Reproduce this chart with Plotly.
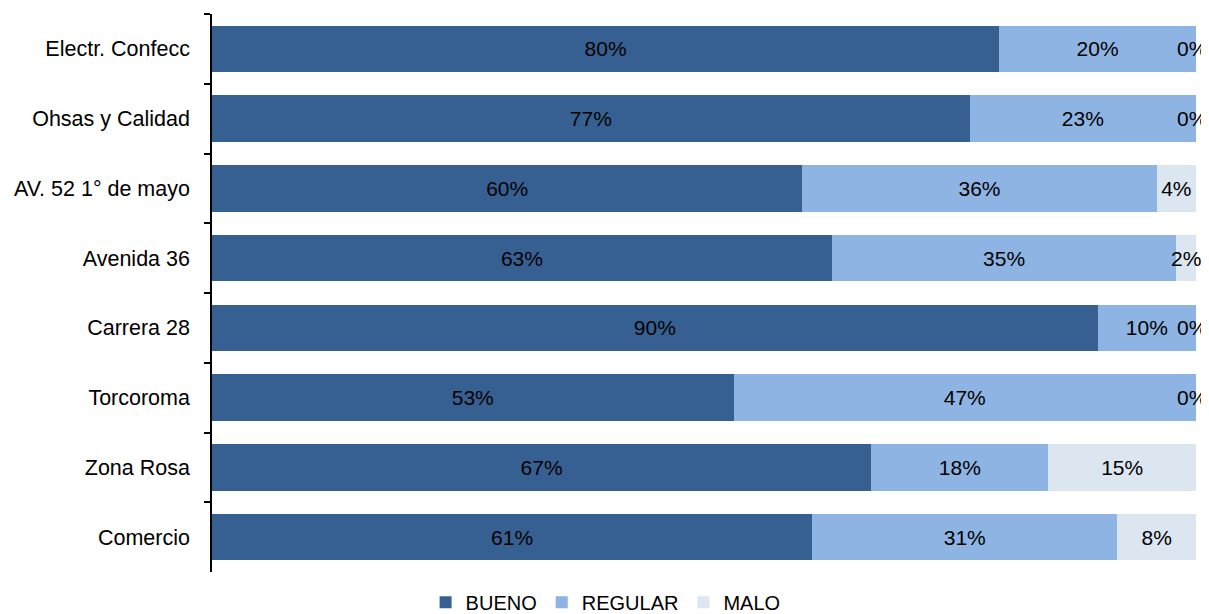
import plotly.graph_objects as go

categories = ["Electr. Confecc", "Ohsas y Calidad", "AV. 52 1° de mayo", "Avenida 36",
              "Carrera 28", "Torcoroma", "Zona Rosa", "Comercio"]
bueno = [80, 77, 60, 63, 90, 53, 67, 61]
regular = [20, 23, 36, 35, 10, 47, 18, 31]
malo = [0, 0, 4, 2, 0, 0, 15, 8]

series = [("BUENO", bueno, "#376092"), ("REGULAR", regular, "#8DB4E2"), ("MALO", malo, "#DCE6F1")]
FONT = "Liberation Sans, Arial"

fig = go.Figure()
for name, vals, color in series:
    fig.add_trace(go.Bar(
        y=categories, x=vals, name=name, orientation="h",
        marker=dict(color=color, line=dict(width=0)),
        text=[f"{v}%" if v > 0 else "" for v in vals],
        textposition="inside", insidetextanchor="middle", textangle=0,
        textfont=dict(family=FONT, size=21, color="#000000"),
        constraintext="none", cliponaxis=False,
    ))

annotations = []
for cat, v, b, r in zip(categories, malo, bueno, regular):
    if v == 0:
        annotations.append(dict(x=b + r + v, y=cat, xref="x", yref="y", text="0%",
                                showarrow=False, xanchor="center", xshift=-4,
                                font=dict(family=FONT, size=21, color="#000000")))

fig.update_layout(
    barmode="stack",
    bargap=0.33,
    width=1201, height=622,
    margin=dict(l=204, r=13, t=6, b=58),
    plot_bgcolor="white", paper_bgcolor="white",
    font=dict(family=FONT, size=21, color="#000000"),
    xaxis=dict(range=[0, 100], visible=False, showgrid=False, zeroline=False),
    yaxis=dict(categoryorder="array", categoryarray=categories, autorange="reversed",
               showline=True, linecolor="#000000", linewidth=1.5,
               ticks="outside", tickson="boundaries", ticklen=6, tickcolor="#000000", tickwidth=1.5,
               showgrid=False, zeroline=False, ticklabelstandoff=16,
               tickfont=dict(family=FONT, size=21.5)),
    legend=dict(orientation="h", x=0.4, xanchor="center", y=-0.054, yanchor="middle",
                font=dict(family=FONT, size=20), traceorder="normal",
                itemwidth=30),
    annotations=annotations,
    uniformtext=dict(mode=False),
)

fig.write_html("out.html")
